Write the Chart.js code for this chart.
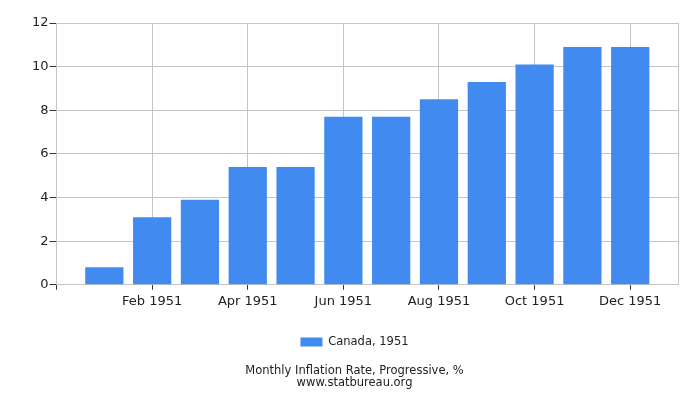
<!DOCTYPE html>
<html>
<head>
<meta charset="utf-8">
<script src="https://cdn.jsdelivr.net/npm/chart.js@4/dist/chart.umd.min.js"></script>
<style>
    body { margin: 0; background: #fff; }
    #wrap { width: 700px; height: 400px; }
</style>
</head>
<body>
<div id="wrap"><canvas id="myChart"></canvas></div>
<script>
// Canada, monthly inflation, progressive (%)
var months = ["Jan 1951", "Feb 1951", "Mar 1951", "Apr 1951", "May 1951", "Jun 1951",
    "Jul 1951", "Aug 1951", "Sep 1951", "Oct 1951", "Nov 1951", "Dec 1951"];
var values = [0.8, 3.1, 3.9, 5.4, 5.4, 7.7, 7.7, 8.5, 9.3, 10.1, 10.9, 10.9];
var yTicks = [0, 2, 4, 6, 8, 10, 12];
var seriesName = "Canada, 1951";

var gridGray = "#c4c4c4";
var tickDark = "#333";

// month number n (1..12) sits at x = n, axis runs one month past each end
var points = [];
for (var i = 0; i < values.length; i++) {
    points.push({ x: i + 1, y: values[i] });
}

function isLabelled(v) {
    return v % 2 === 0 && v >= 2 && v <= 12;
}

const ctx = document.getElementById("myChart");
var myChart = new Chart(ctx, {
    type: "bar",
    data: {
        datasets: [
            {
                label: seriesName,
                data: points,
                backgroundColor: "#418bf0",
                borderWidth: 0,
                barPercentage: 0.8,
                categoryPercentage: 1.0,
            },
        ],
    },
    options: {
        responsive: true,
        maintainAspectRatio: false,
        animation: false,
        layout: {
            padding: { top: 23, right: 22, bottom: 11, left: 31 },
        },
        scales: {
            x: {
                type: "linear",
                min: 0,
                max: 13,
                offset: false,
                afterFit: function (scale) {
                    scale.height += 13; // gap down to the legend
                },
                ticks: {
                    stepSize: 1,
                    autoSkip: false,
                    maxRotation: 0,
                    padding: 4,
                    color: "#222",
                    font: { family: "DejaVu Sans", size: 13 },
                    callback: function (v) {
                        return isLabelled(v) ? months[v - 1] : "";
                    },
                },
                grid: {
                    offset: false,
                    tickLength: 5,
                    color: function (c) {
                        var v = c.tick ? c.tick.value : 0;
                        if (v === 13) return gridGray;
                        return isLabelled(v) ? gridGray : "rgba(0,0,0,0)";
                    },
                    tickColor: function (c) {
                        var v = c.tick ? c.tick.value : 0;
                        return (v % 2 === 0 && v <= 12) ? tickDark : "rgba(0,0,0,0)";
                    },
                },
                border: { color: gridGray },
            },
            y: {
                min: 0,
                max: 12,
                afterBuildTicks: function (axis) {
                    axis.ticks = yTicks.map(function (v) { return { value: v }; });
                },
                ticks: {
                    padding: 1,
                    color: "#222",
                    font: { family: "DejaVu Sans", size: 13 },
                },
                grid: {
                    tickLength: 7,
                    color: gridGray,
                    tickColor: tickDark,
                },
                border: { color: gridGray },
            },
        },
        plugins: {
            legend: {
                position: "bottom",
                labels: {
                    boxWidth: 22,
                    boxHeight: 9,
                    color: "#222",
                    padding: 10,
                    font: { family: "DejaVu Sans", size: 11.5 },
                },
            },
            title: {
                display: true,
                position: "bottom",
                text: ["Monthly Inflation Rate, Progressive, %", "www.statbureau.org"],
                color: "#222",
                font: { family: "DejaVu Sans", size: 11.5, weight: "normal", lineHeight: 1.05 },
                padding: { top: 7, bottom: 0 },
            },
            tooltip: { enabled: false },
        },
    },
});
</script>
</body>
</html>
